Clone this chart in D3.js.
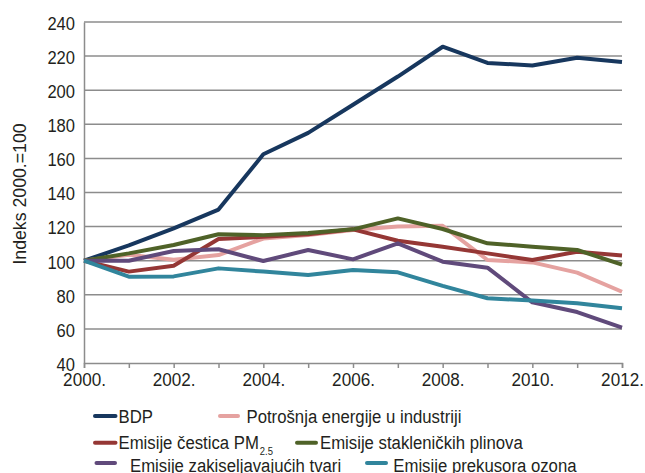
<!DOCTYPE html>
<html>
<head>
<meta charset="utf-8">
<script src="https://cdn.jsdelivr.net/npm/d3@7.9.0/dist/d3.min.js"></script>
<style>
  body { margin: 0; background: #fff; }
  svg text { font-family: "Liberation Sans", Arial, sans-serif; fill: #231f20; }
</style>
</head>
<body>
<div id="chart"></div>
<script>
const years = [2000, 2001, 2002, 2003, 2004, 2005, 2006, 2007, 2008, 2009, 2010, 2011, 2012];
const yearTicks = [2000, 2002, 2004, 2006, 2008, 2010, 2012];
const yTicks = [40, 60, 80, 100, 120, 140, 160, 180, 200, 220, 240];

const bdp        = [100, 109, 119, 130, 162.4, 175, 191.5, 208, 225.5, 216, 214.5, 219, 216.5];
const energija   = [100, 103.5, 100.5, 103.3, 113, 115, 118, 120, 120.5, 100.4, 99, 93, 81.8];
const pm25       = [100, 93.6, 97, 112.7, 114, 115.5, 118.4, 111.7, 108.2, 104.3, 100.4, 105.3, 103];
const staklenicki = [100, 104.3, 109.2, 115.5, 115, 116.2, 118.4, 124.8, 118.6, 110.2, 108.2, 106.3, 97.7];
const zakiseljavajuci = [100, 100, 105.7, 106.7, 99.8, 106.3, 100.8, 110.2, 99.4, 95.9, 75.6, 69.9, 60.8];
const ozon       = [100, 90.6, 90.8, 95.5, 93.6, 91.6, 94.5, 93.2, 85.2, 78, 76.6, 75, 72.1];

const series = [
  { name: "BDP", values: bdp, color: "#17375e" },
  { name: "Potrošnja energije u industriji", values: energija, color: "#e5a2a0" },
  { name: "Emisije čestica PM", sub: "2.5", values: pm25, color: "#953735" },
  { name: "Emisije stakleničkih plinova", values: staklenicki, color: "#4f6228" },
  { name: "Emisije zakiseljavajućih tvari", values: zakiseljavajuci, color: "#604a7b" },
  { name: "Emisije prekusora ozona", values: ozon, color: "#31859c" }
];

const width = 645, height = 473;
const plotLeft = 84, plotRight = 622, plotTop = 22, plotBottom = 363;
const squeeze = "scale(0.9,1)"; // condensed look

const svg = d3.select("#chart").append("svg")
    .attr("width", width)
    .attr("height", height);

const x = d3.scaleLinear().domain([2000, 2012]).range([plotLeft, plotRight]);
const y = d3.scaleLinear().domain([40, 240]).range([plotBottom, plotTop]);

// grid
svg.append("g")
    .selectAll("line")
    .data(yTicks.filter(d => d > 40))
    .enter()
    .append("line")
    .attr("x1", plotLeft).attr("x2", plotRight)
    .attr("y1", d => y(d)).attr("y2", d => y(d))
    .attr("stroke", "#8c8c8c")
    .attr("stroke-width", 1.5);

// y axis
const yAxis = svg.append("g")
    .attr("transform", "translate(" + plotLeft + ",0)")
    .call(d3.axisLeft(y).tickValues(yTicks).tickSize(0).tickPadding(10));
yAxis.select(".domain").attr("stroke", "#8c8c8c").attr("stroke-width", 1.5);
yAxis.selectAll("text")
    .attr("font-size", 18.4)
    .attr("dy", "0.4em")
    .attr("transform", squeeze);

// x axis
const xAxis = svg.append("g")
    .attr("transform", "translate(0," + plotBottom + ")")
    .call(d3.axisBottom(x).tickValues(years).tickSize(5).tickPadding(4)
        .tickFormat(d => yearTicks.includes(d) ? d + "." : ""));
xAxis.select(".domain").attr("stroke", "#8c8c8c").attr("stroke-width", 1.5);
xAxis.selectAll("line").attr("stroke", "#8c8c8c").attr("stroke-width", 1.5);
xAxis.selectAll("text")
    .attr("font-size", 19)
    .attr("dy", "0.72em")
    .attr("transform", squeeze);

// y label
svg.append("text")
    .attr("transform", "translate(26,194) rotate(-90)")
    .attr("text-anchor", "middle")
    .attr("font-size", 17.7)
    .text("Indeks 2000.=100");

// lines
const line = d3.line()
    .x((d, i) => x(years[i]))
    .y(d => y(d));

svg.append("g")
    .selectAll("path")
    .data(series)
    .enter()
    .append("path")
    .attr("d", d => line(d.values))
    .attr("fill", "none")
    .attr("stroke", d => d.color)
    .attr("stroke-width", 4)
    .attr("stroke-linejoin", "round");

// legend
const legendPos = [
  { sx: 95, ex: 115.5, tx: 118.5, sy: 416, ty: 422.7 },
  { sx: 220, ex: 238, tx: 246.5, sy: 416, ty: 422.7 },
  { sx: 95, ex: 115.5, tx: 118.5, sy: 442.7, ty: 449 },
  { sx: 297, ex: 316, tx: 320, sy: 442.7, ty: 449 },
  { sx: 96.5, ex: 115, tx: 130, sy: 463, ty: 472 },
  { sx: 367, ex: 386, tx: 393.3, sy: 463, ty: 472 }
];

const legend = svg.append("g")
    .selectAll("g")
    .data(series)
    .enter()
    .append("g");

legend.append("line")
    .attr("x1", (d, i) => legendPos[i].sx)
    .attr("x2", (d, i) => legendPos[i].ex)
    .attr("y1", (d, i) => legendPos[i].sy)
    .attr("y2", (d, i) => legendPos[i].sy)
    .attr("stroke", d => d.color)
    .attr("stroke-width", 4)
    .attr("stroke-linecap", "round");

const lt = legend.append("text")
    .attr("transform", (d, i) => "translate(" + legendPos[i].tx + "," + legendPos[i].ty + ") " + squeeze)
    .attr("font-size", 18.6)
    .text(d => d.name);

lt.filter(d => d.sub)
    .append("tspan")
    .attr("font-size", 10.5)
    .attr("dy", 6)
    .attr("dx", 1)
    .text(d => d.sub);
</script>
</body>
</html>
